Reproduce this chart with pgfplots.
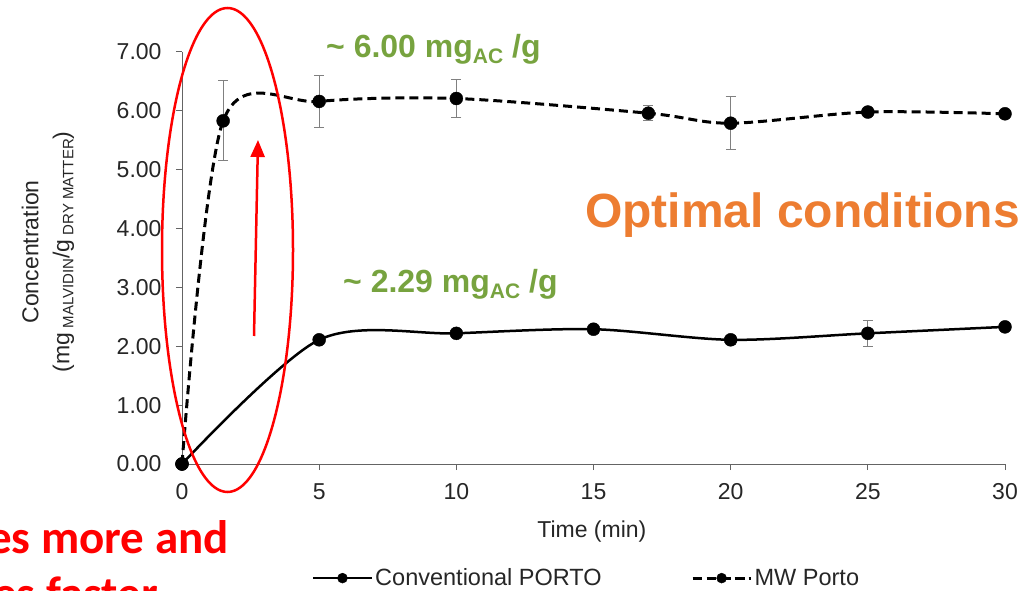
\documentclass[border=0pt]{standalone}
\usepackage{pgfplots}
\pgfplotsset{compat=1.18}
\usepackage{fontspec}
\setmainfont{Liberation Sans}
\newfontfamily\carlito{Carlito}
\usetikzlibrary{arrows.meta}
\definecolor{axgray}{RGB}{100,100,100}
\definecolor{errgray}{RGB}{128,128,128}
\definecolor{accgreen}{RGB}{119,163,63}
\definecolor{accorange}{RGB}{237,125,49}
\pgfplotstableread{
x y e
0 0 0
1.5 5.83 0.68
5 6.16 0.44
10 6.21 0.32
17 5.96 0.13
20 5.79 0.45
25 5.98 0.04
30 5.95 0.0
}\mwdata
\pgfplotstableread{
x y e
0 0 0
5 2.11 0.04
10 2.22 0.04
15 2.29 0.07
20 2.11 0.08
25 2.22 0.22
30 2.33 0.03
}\convdata
\begin{document}
\begin{tikzpicture}
\path[use as bounding box] (0bp,0bp) rectangle (1033bp,591bp);
\begin{axis}[
  at={(182bp,127bp)}, anchor=south west,
  scale only axis, width=823bp, height=412bp,
  xmin=0, xmax=30, ymin=0, ymax=7,
  axis lines=left, axis line style={-, axgray, line width=1bp},
  tick align=outside, major tick length=6bp,
  tick style={axgray, line width=1bp},
  xtick={0,5,...,30}, ytick={0,1,...,7},
  yticklabel style={xshift=-11bp, /pgf/number format/.cd, fixed, fixed zerofill, precision=2},
  xticklabel style={yshift=-10bp},
  /pgf/number format/assume math mode=true,
  ticklabel style={font=\fontsize{23bp}{27bp}\selectfont, text=black!85},
  xlabel={Time (min)},
  xlabel style={font=\fontsize{23bp}{27bp}\selectfont, text=black!85, at={(axis description cs:0.498,-0.163)}, anchor=center},
  ylabel={Concentration\\(mg\raisebox{-4bp}{\fontsize{15bp}{15bp}\selectfont\ MALVIDIN}/g\raisebox{-4bp}{\fontsize{15bp}{15bp}\selectfont\ DRY MATTER})},
  ylabel style={font=\fontsize{23bp}{31bp}\selectfont, text=black!85, align=center, at={(axis description cs:-0.163,0.515)}, anchor=center, rotate=0},
  clip=false,
  legend columns=2,
  legend style={draw=none, fill=none, at={(axis description cs:0.158,-0.277)}, anchor=west, inner sep=0pt,
    font=\fontsize{23.5bp}{27bp}\selectfont, text=black!85,
    nodes={inner sep=1.5bp},
    /tikz/every even column/.append style={column sep=88bp},
    /tikz/every odd column/.append style={column sep=1bp}},
  legend image code/.code={\draw[mark repeat=2,mark phase=2,#1,mark size=5bp] plot coordinates {(0bp,0bp) (29bp,0bp) (58bp,0bp)};},
]
\addplot[black, line width=2.5bp, smooth, mark=*, mark size=6.5bp, mark options={solid, line width=0.4bp},
  error bars/.cd, y dir=both, y explicit,
  error bar style={errgray, line width=1bp, solid},
  error mark options={rotate=90, mark size=5bp, errgray, line width=1bp, solid}]
  table[x=x, y=y, y error=e] {\convdata};
\addlegendentry{Conventional PORTO}
\addplot[black, line width=3bp, smooth, dash pattern=on 9bp off 5bp, mark=*, mark size=6.5bp, mark options={solid, line width=0.4bp},
  error bars/.cd, y dir=both, y explicit,
  error bar style={errgray, line width=1bp, solid},
  error mark options={rotate=90, mark size=5bp, errgray, line width=1bp, solid}]
  table[x=x, y=y, y error=e] {\mwdata};
\addlegendentry{MW Porto}
\end{axis}
\draw[red, line width=2.5bp] (227.5bp,341bp) ellipse [x radius=65.5bp, y radius=242bp];
\draw[red, line width=2.5bp, -{Triangle[width=14bp,length=17bp]}] (254bp,255bp) -- (258bp,451bp);
\node[anchor=base west, text=accgreen, font=\fontsize{32bp}{36bp}\selectfont\bfseries, inner sep=0pt] at (326bp,533bp)
  {\textasciitilde\ 6.00 mg\raisebox{-6bp}{\fontsize{21bp}{21bp}\selectfont AC} /g};
\node[anchor=base west, text=accgreen, font=\fontsize{32bp}{36bp}\selectfont\bfseries, inner sep=0pt] at (343bp,298bp)
  {\textasciitilde\ 2.29 mg\raisebox{-6bp}{\fontsize{21bp}{21bp}\selectfont AC} /g};
\node[anchor=base west, text=accorange, font=\fontsize{48bp}{56bp}\selectfont\bfseries, inner sep=0pt] at (585bp,363bp)
  {Optimal conditions};
\node[anchor=base east, text=red, font=\carlito\bfseries\fontsize{47bp}{52bp}\selectfont, inner sep=0pt] at (229bp,38bp)
  {Releases more and};
\node[anchor=base east, text=red, font=\carlito\bfseries\fontsize{47bp}{52bp}\selectfont, inner sep=0pt] at (158bp,-18bp)
  {releases faster};
\end{tikzpicture}
\end{document}
